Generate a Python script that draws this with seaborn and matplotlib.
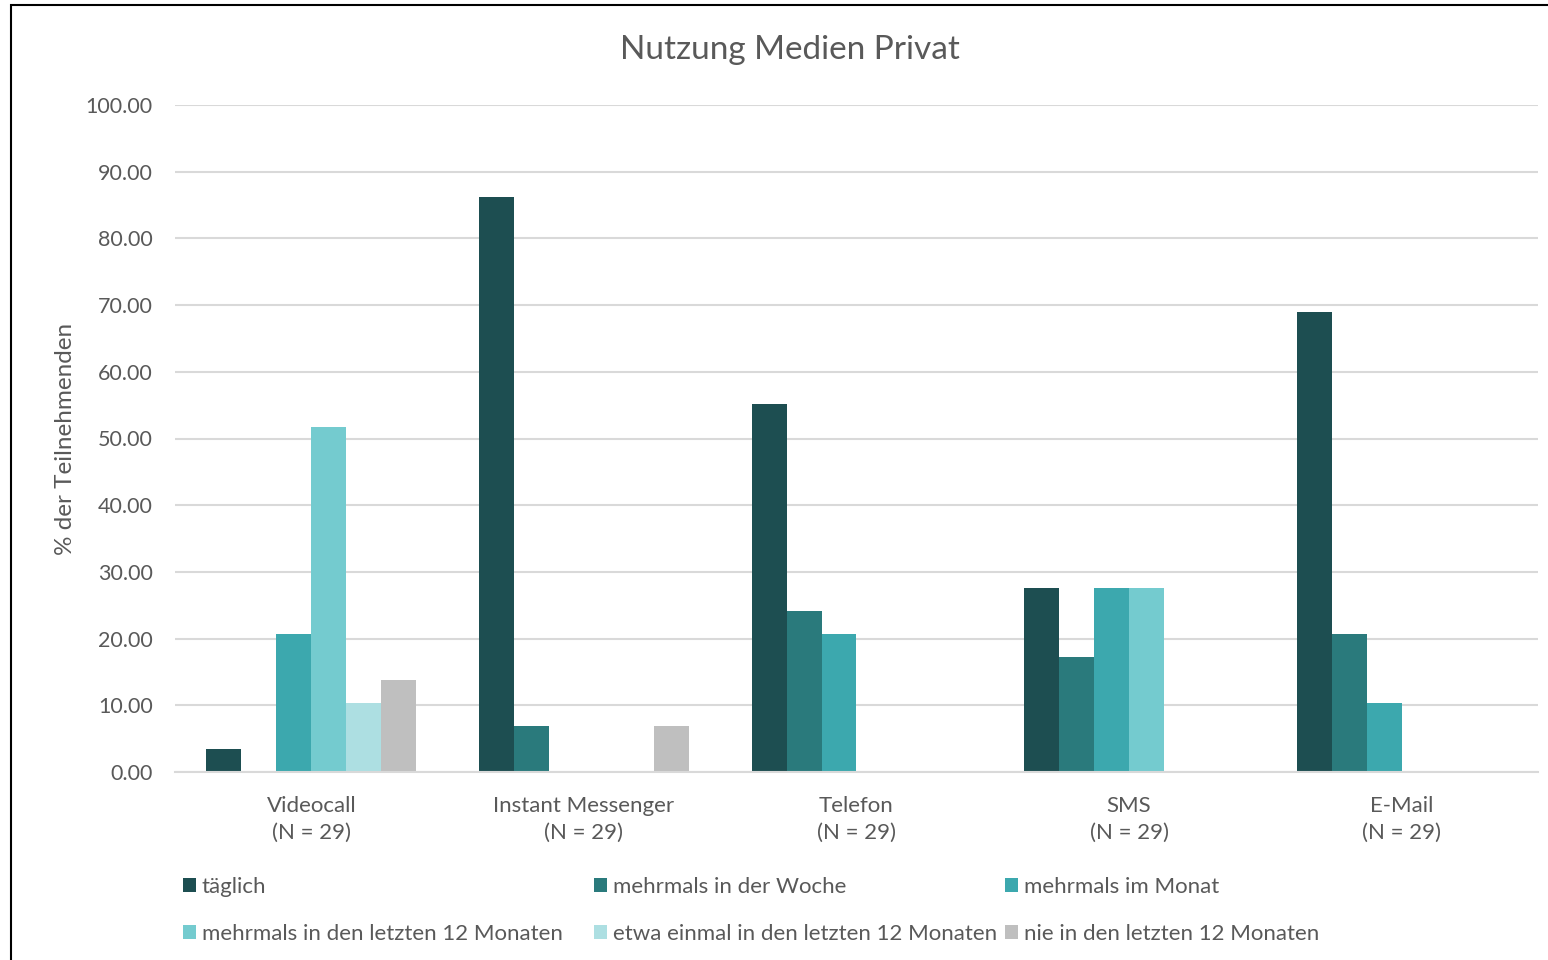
import numpy as np
import pandas as pd
import seaborn as sns
import matplotlib.pyplot as plt
from matplotlib.patches import Rectangle, Patch

# data (percent of 29 participants)
medien = ["Videocall\n(N = 29)", "Instant Messenger\n(N = 29)", "Telefon\n(N = 29)",
          "SMS\n(N = 29)", "E-Mail\n(N = 29)"]
kategorien = ["täglich", "mehrmals in der Woche", "mehrmals im Monat",
              "mehrmals in den letzten 12 Monaten", "etwa einmal in den letzten 12 Monaten",
              "nie in den letzten 12 Monaten"]
taeglich = [3.45, 86.21, 55.17, 27.59, 68.97]
woche = [0.00, 6.90, 24.14, 17.24, 20.69]
monat = [20.69, 0.00, 20.69, 27.59, 10.34]
zwoelf_monate = [51.72, 0.00, 0.00, 27.59, 0.00]
einmal = [10.34, 0.00, 0.00, 0.00, 0.00]
nie = [13.79, 6.90, 0.00, 0.00, 0.00]
farben = ["#1D4E51", "#2A7A7C", "#3CA8AE", "#74CBCF", "#ADDFE2", "#BFBFBF"]

rows = []
for kat, werte in zip(kategorien, [taeglich, woche, monat, zwoelf_monate, einmal, nie]):
    for m, w in zip(medien, werte):
        rows.append({"Medium": m, "Kategorie": kat, "Prozent": w})
df = pd.DataFrame(rows)

sns.set_style("white")
plt.rcParams["font.family"] = ["Lato", "DejaVu Sans"]
txt = "#595959"

fig = plt.figure(figsize=(15.48, 9.6), dpi=100)
ax = fig.add_axes([175 / 1548, 1 - 772 / 960, (1538 - 175) / 1548, (772 - 105) / 960])

sns.barplot(data=df, x="Medium", y="Prozent", hue="Kategorie", hue_order=kategorien,
            order=medien, palette=farben, width=0.77, ax=ax, legend=False,
            edgecolor="none", saturation=1)

ax.set_ylim(0, 100)
ax.set_yticks(np.arange(0, 101, 10))
ax.set_yticklabels([f"{v:.2f}" for v in np.arange(0, 101, 10)])
ax.grid(axis="y", color="#D9D9D9", lw=1.5)
ax.set_axisbelow(True)
for s in ["top", "right", "left"]:
    ax.spines[s].set_visible(False)
ax.spines["bottom"].set_color("#D9D9D9")
ax.spines["bottom"].set_linewidth(1.5)
ax.tick_params(axis="y", length=0, labelsize=15.5, labelcolor=txt, pad=16)
ax.tick_params(axis="x", length=0, labelsize=16, labelcolor=txt, pad=17)
for lab in ax.get_xticklabels():
    lab.set_linespacing(1.45)
ax.set_xlabel("")
ax.set_ylabel("% der Teilnehmenden", fontsize=17.5, color=txt)
ax.yaxis.set_label_coords(-0.073, 0.5)
ax.set_xlim(-0.5, 4.5)

fig.text(790 / 1548, 1 - 50 / 960, "Nutzung Medien Privat", ha="center", va="center",
         fontsize=24, color=txt)

# legend: three columns at fixed positions, two rows each
handles = [Patch(facecolor=c, edgecolor="none") for c in farben]
spalten_x = [183, 594, 1005]
for j, x in enumerate(spalten_x):
    idx = [j, j + 3]
    leg = fig.legend([handles[i] for i in idx], [kategorien[i] for i in idx],
                     ncol=1, loc="upper left", bbox_to_anchor=(x / 1548, 1 - 877 / 960),
                     frameon=False, fontsize=16, labelcolor=txt, handlelength=0.6,
                     handleheight=0.6, handletextpad=0.25, labelspacing=1.2,
                     borderaxespad=0, borderpad=0)

# outer frame (left and top only visible)
fig.patches.append(Rectangle((11 / 1548, -0.05), 1.2, 1 - 5 / 960 + 0.05,
                             transform=fig.transFigure, fill=False, edgecolor="black",
                             lw=1.5))

fig.savefig("out.png", dpi=100)
